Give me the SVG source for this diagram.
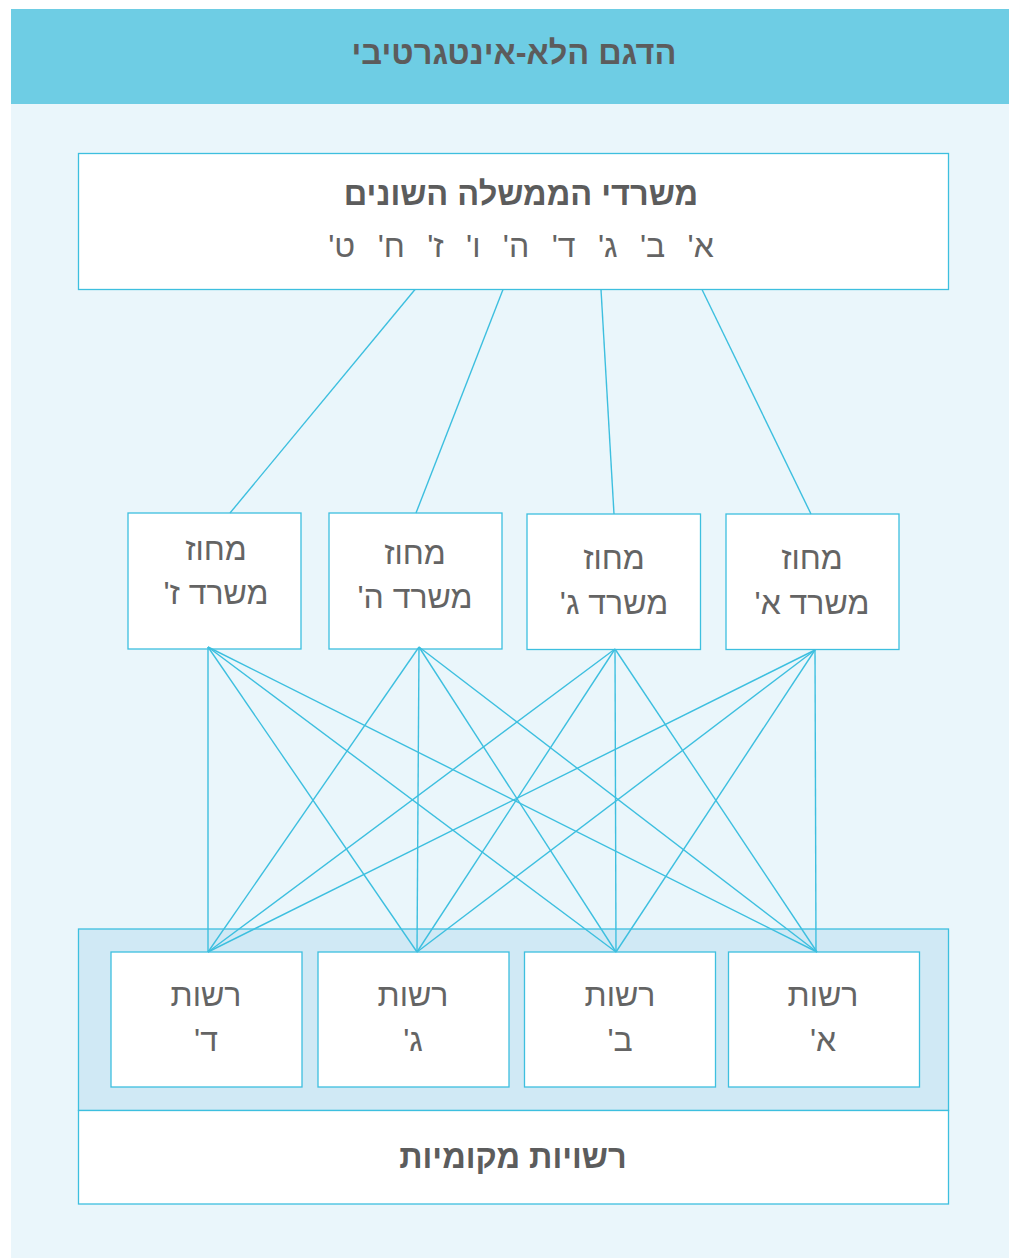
<svg xmlns="http://www.w3.org/2000/svg" width="1009" height="1258" viewBox="0 0 1009 1258">
<style>
.box{fill:#ffffff;stroke:#3dbfdf;stroke-width:1.3}
.conn line{stroke:#3dbfdf;stroke-width:1.4;fill:none}
.t{font-family:"Liberation Sans","DejaVu Sans",sans-serif;fill:#646464;text-anchor:middle;direction:rtl}
.lt{font-size:32px;font-weight:400}
.bd{font-size:32.5px;font-weight:700;fill:#5c5c5c}
</style>
<rect x="0" y="0" width="1009" height="1258" fill="#ffffff"/>
<rect x="11" y="103" width="998" height="1155" fill="#eaf6fb"/>
<g id="header">
<rect x="11" y="9" width="998" height="95" fill="#6ecde4"/>
<text class="t bd" x="514" y="64" direction="rtl">הדגם הלא-אינטגרטיבי</text>
</g>
<g id="ministries">
<rect class="box" x="78.5" y="153.5" width="870" height="136"/>
<text class="t bd" x="521" y="205" direction="rtl">משרדי הממשלה השונים</text>
<text class="t lt" x="521" y="257" direction="rtl" word-spacing="13.5">א' ב' ג' ד' ה' ו' ז' ח' ט'</text>
</g>
<g id="district-z">
<rect class="box" x="128" y="513" width="173" height="136"/>
<text class="t lt" x="216" y="560" direction="rtl">מחוז</text>
<text class="t lt" x="216" y="604" direction="rtl">משרד ז'</text>
</g>
<g id="district-h">
<rect class="box" x="329" y="513" width="173" height="136"/>
<text class="t lt" x="415" y="564" direction="rtl">מחוז</text>
<text class="t lt" x="415" y="608" direction="rtl">משרד ה'</text>
</g>
<g id="district-g">
<rect class="box" x="527" y="514" width="173.5" height="135.5"/>
<text class="t lt" x="614" y="569" direction="rtl">מחוז</text>
<text class="t lt" x="614" y="614" direction="rtl">משרד ג'</text>
</g>
<g id="district-a">
<rect class="box" x="726" y="514" width="173" height="135.5"/>
<text class="t lt" x="812" y="569" direction="rtl">מחוז</text>
<text class="t lt" x="812" y="614" direction="rtl">משרד א'</text>
</g>
<g id="local-authorities">
<rect x="78.5" y="929" width="870" height="181.5" fill="#d0e9f5" stroke="#3dbfdf" stroke-width="1.3"/>
<rect class="box" x="78.5" y="1110.5" width="870" height="93.5"/>
<text class="t bd" x="513" y="1168" direction="rtl">רשויות מקומיות</text>
</g>
<g id="authority-d">
<rect class="box" x="111" y="952" width="191" height="135"/>
<text class="t lt" x="206" y="1006" direction="rtl">רשות</text>
<text class="t lt" x="206" y="1051" direction="rtl">ד'</text>
</g>
<g id="authority-g">
<rect class="box" x="318" y="952" width="191" height="135"/>
<text class="t lt" x="413" y="1006" direction="rtl">רשות</text>
<text class="t lt" x="413" y="1051" direction="rtl">ג'</text>
</g>
<g id="authority-b">
<rect class="box" x="524.5" y="952" width="191" height="135"/>
<text class="t lt" x="620" y="1006" direction="rtl">רשות</text>
<text class="t lt" x="620" y="1051" direction="rtl">ב'</text>
</g>
<g id="authority-a">
<rect class="box" x="728.5" y="952" width="191" height="135"/>
<text class="t lt" x="823" y="1006" direction="rtl">רשות</text>
<text class="t lt" x="823" y="1051" direction="rtl">א'</text>
</g>
<g id="connectors" class="conn">
<line x1="415" y1="289.5" x2="230" y2="513"/>
<line x1="503" y1="289.5" x2="416" y2="513"/>
<line x1="601" y1="289.5" x2="614" y2="514"/>
<line x1="702" y1="289.5" x2="811" y2="514"/>
<line x1="208" y1="647" x2="208" y2="952"/>
<line x1="208" y1="647" x2="417" y2="952"/>
<line x1="208" y1="647" x2="616" y2="952"/>
<line x1="208" y1="647" x2="817" y2="952"/>
<line x1="419" y1="647" x2="208" y2="952"/>
<line x1="419" y1="647" x2="417" y2="952"/>
<line x1="419" y1="647" x2="616" y2="952"/>
<line x1="419" y1="647" x2="817" y2="952"/>
<line x1="615" y1="649" x2="208" y2="952"/>
<line x1="615" y1="649" x2="417" y2="952"/>
<line x1="615" y1="649" x2="616" y2="952"/>
<line x1="615" y1="649" x2="817" y2="952"/>
<line x1="815" y1="650" x2="208" y2="952"/>
<line x1="815" y1="650" x2="417" y2="952"/>
<line x1="815" y1="650" x2="616" y2="952"/>
<line x1="815" y1="650" x2="816" y2="952"/>
</g>
</svg>
